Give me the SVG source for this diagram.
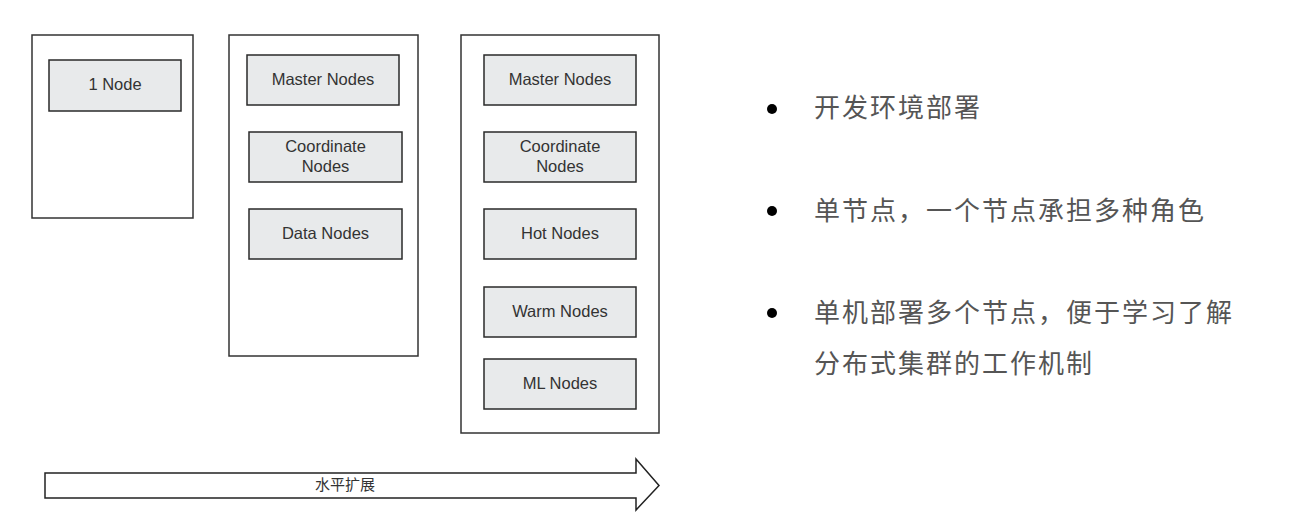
<svg xmlns="http://www.w3.org/2000/svg" width="1291" height="528" viewBox="0 0 1291 528">
<style>
.frame{fill:#fff;stroke:#333;stroke-width:1.5}
.node{fill:#e8eaeb;stroke:#2a2a2a;stroke-width:1.5}
.lbl{font-family:"Liberation Sans",Arial,sans-serif;font-size:16.5px;fill:#333;text-anchor:middle}
.cjk{font-family:"Noto Sans CJK SC","Noto Sans CJK JP",sans-serif;fill:#555;font-size:26px;letter-spacing:2px}
.dot{fill:#000}
</style>
<rect width="1291" height="528" fill="#fff"/>
<g id="cluster1">
<rect class="frame" x="32" y="35" width="161" height="183"/>
</g>
<g id="node-1">
<rect class="node" x="49" y="60" width="132" height="51"/>
<text class="lbl" x="115" y="90">1 Node</text>
</g>
<g id="cluster2">
<rect class="frame" x="229" y="35" width="189" height="321"/>
</g>
<g id="c2-master">
<rect class="node" x="247" y="55" width="152" height="50"/>
<text class="lbl" x="323" y="85">Master Nodes</text>
</g>
<g id="c2-coord">
<rect class="node" x="249" y="132" width="153" height="50"/>
<text class="lbl" x="325.5" y="152">Coordinate</text>
<text class="lbl" x="325.5" y="172">Nodes</text>
</g>
<g id="c2-data">
<rect class="node" x="249" y="209" width="153" height="50"/>
<text class="lbl" x="325.5" y="239">Data Nodes</text>
</g>
<g id="cluster3">
<rect class="frame" x="461" y="35" width="198" height="398"/>
</g>
<g id="c3-master">
<rect class="node" x="484" y="55" width="152" height="50"/>
<text class="lbl" x="560" y="85">Master Nodes</text>
</g>
<g id="c3-coord">
<rect class="node" x="484" y="132" width="152" height="50"/>
<text class="lbl" x="560" y="152">Coordinate</text>
<text class="lbl" x="560" y="172">Nodes</text>
</g>
<g id="c3-hot">
<rect class="node" x="484" y="209" width="152" height="50"/>
<text class="lbl" x="560" y="239">Hot Nodes</text>
</g>
<g id="c3-warm">
<rect class="node" x="484" y="287" width="152" height="50"/>
<text class="lbl" x="560" y="317">Warm Nodes</text>
</g>
<g id="c3-ml">
<rect class="node" x="484" y="359" width="152" height="50"/>
<text class="lbl" x="560" y="389">ML Nodes</text>
</g>
<g id="connectors">
<path d="M45,473 L636,473 L636,459 L659,485.5 L636,510 L636,498 L45,498 Z" fill="#fff" stroke="#222" stroke-width="1.5" stroke-linejoin="miter"/>
<text x="345" y="490" font-family="'Noto Sans CJK SC',sans-serif" font-size="15" fill="#333" text-anchor="middle">水平扩展</text>
</g>
<g id="bullets">
<circle class="dot" cx="772" cy="109" r="5"/>
<text class="cjk" x="814" y="117">开发环境部署</text>
<circle class="dot" cx="772" cy="211" r="5"/>
<text class="cjk" x="814" y="220">单节点，一个节点承担多种角色</text>
<circle class="dot" cx="772" cy="313" r="5"/>
<text class="cjk" x="814" y="322">单机部署多个节点，便于学习了解</text>
<text class="cjk" x="814" y="373">分布式集群的工作机制</text>
</g>
</svg>
